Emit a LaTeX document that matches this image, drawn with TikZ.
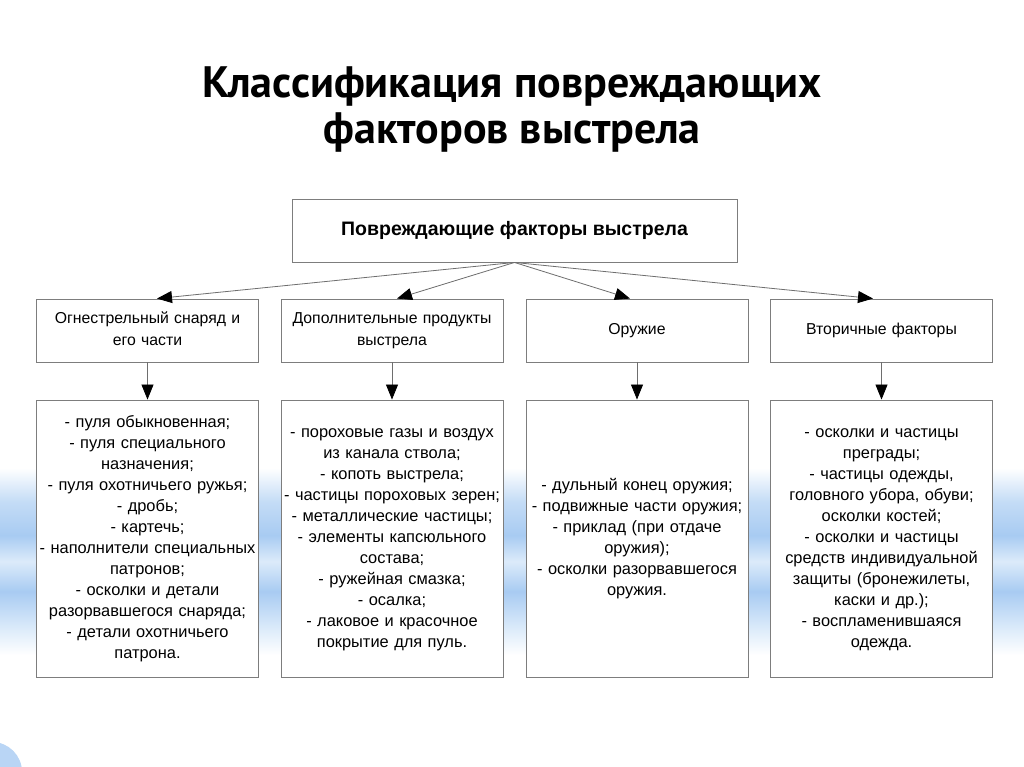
\documentclass[tikz,border=0pt]{standalone}
\usepackage{fontspec}
\setmainfont{Liberation Sans}
\newfontfamily\titlefont{PT Sans}
\usetikzlibrary{arrows.meta,shadows}
\definecolor{bandblue}{RGB}{168,203,242}
\definecolor{bandlight}{RGB}{220,235,250}
\definecolor{bandmid}{RGB}{196,220,246}
\definecolor{boxgray}{RGB}{125,125,125}
\definecolor{arrowgray}{RGB}{110,110,110}
\pgfdeclareverticalshading{blueband}{100bp}{color(0bp)=(white); color(25bp)=(white); color(32bp)=(bandlight); color(42bp)=(bandblue); color(50bp)=(bandlight); color(57bp)=(bandblue); color(66bp)=(bandmid); color(75bp)=(white); color(100bp)=(white)}
\tikzset{
  box/.style={draw=boxgray, fill=white, line width=0.9pt, inner sep=0pt, align=center},
  topbox/.style={box, minimum width=445pt, minimum height=63pt, font=\bfseries\fontsize{19.5}{22}\selectfont},
  lvltwo/.style={box, minimum width=222pt, minimum height=63pt, text width=212pt, font=\fontsize{15.8}{22}\selectfont},
  lvlthree/.style={box, minimum width=222pt, minimum height=277pt, text width=220pt, font=\fontsize{16.4}{21}\selectfont,
    drop shadow={shadow xshift=0.8pt, shadow yshift=-1.4pt, fill=black!30}},
  conn/.style={draw=arrowgray, line width=0.8pt, -{Triangle[length=15pt,width=12pt,color=black]}}
}
\begin{document}
\begin{tikzpicture}[x=1pt,y=-1pt]
\useasboundingbox (0,0) rectangle (1024,767);
\fill[white] (0,0) rectangle (1024,767);
\shade[shading=blueband] (0,468) rectangle (1024,655);
\begin{scope}
\clip (0,0) rectangle (1024,767);
\fill[bandblue!80] (-8,772) circle[radius=30pt];
\end{scope}

\node[font=\titlefont\bfseries\fontsize{44}{46}\selectfont, align=center] (title) at (512,110)
  {Классификация повреждающих\\факторов выстрела};

\node[topbox] (top) at (514.5,230.5) {Повреждающие факторы выстрела};

\node[lvltwo] (b1) at (147.5,330.5) {\strut Огнестрельный снаряд и\\его части\strut};
\node[lvltwo] (b2) at (392,330.5) {\strut Дополнительные продукты\\выстрела\strut};
\node[lvltwo] (b3) at (637,330.5) {\strut Оружие};
\node[lvltwo] (b4) at (881.5,330.5) {\strut Вторичные факторы};

\node[lvlthree] (c1) at (147.5,538.5) {\strut - пуля обыкновенная;\\- пуля специального\\назначения;\\- пуля охотничьего ружья;\\- дробь;\\- картечь;\\- наполнители специальных\\патронов;\\- осколки и детали\\разорвавшегося снаряда;\\- детали охотничьего\\патрона.\strut};
\node[lvlthree] (c2) at (392,538.5) {\strut - пороховые газы и воздух\\из канала ствола;\\- копоть выстрела;\\- частицы пороховых зерен;\\- металлические частицы;\\- элементы капсюльного\\состава;\\- ружейная смазка;\\- осалка;\\- лаковое и красочное\\покрытие для пуль.\strut};
\node[lvlthree] (c3) at (637,538.5) {\strut - дульный конец оружия;\\- подвижные части оружия;\\- приклад (при отдаче\\оружия);\\- осколки разорвавшегося\\оружия.\strut};
\node[lvlthree] (c4) at (881.5,538.5) {\strut - осколки и частицы\\преграды;\\- частицы одежды,\\головного убора, обуви;\\осколки костей;\\- осколки и частицы\\средств индивидуальной\\защиты (бронежилеты,\\каски и др.);\\- воспламенившаяся\\одежда.\strut};

\draw[conn] (top.south) -- ([xshift=9.5pt]b1.north);
\draw[conn] (top.south) -- ([xshift=5pt]b2.north);
\draw[conn] (top.south) -- ([xshift=-7pt]b3.north);
\draw[conn] (top.south) -- ([xshift=-8.5pt]b4.north);
\draw[conn] (b1) -- (c1);
\draw[conn] (b2) -- (c2);
\draw[conn] (b3) -- (c3);
\draw[conn] (b4) -- (c4);
\end{tikzpicture}
\end{document}
